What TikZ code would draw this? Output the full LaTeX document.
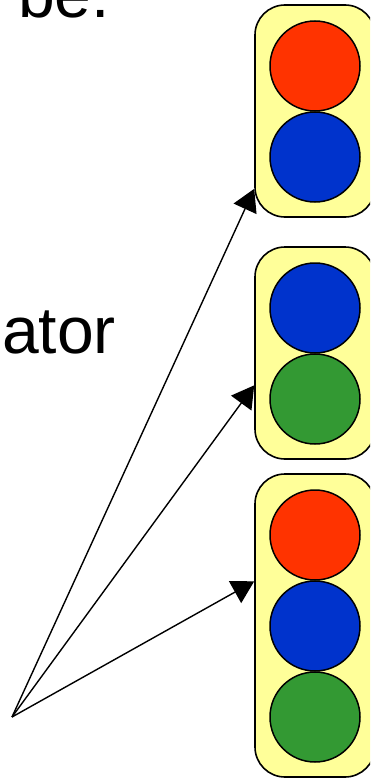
\documentclass[tikz,border=0pt]{standalone}
\usepackage{fontspec}
\setmainfont{Liberation Sans}
\usetikzlibrary{arrows.meta}
\definecolor{LampRed}{RGB}{255, 51, 0}
\definecolor{LampBlue}{RGB}{0, 51, 204}
\definecolor{LampGreen}{RGB}{51, 153, 51}
\definecolor{HousingYellow}{RGB}{255, 255, 153}

\begin{document}
\begin{tikzpicture}[
                x=1pt,y=-1pt,
                housing/.style={rectangle,draw,line width=1.6pt,fill=HousingYellow,rounded corners=30pt,minimum width=120pt,inner sep=0pt},
                lamp/.style={circle,draw,line width=1.5pt,minimum size=90pt,inner sep=0pt},
                pointer/.style={line width=1.4pt,-{Triangle[length=22pt,width=25pt]}},
                word/.style={inner sep=0pt,font=\fontsize{66}{72}\selectfont}
            ]
                \clip (0,0) rectangle (370,778);
                % Text fragments on the left
                \node[word,anchor=base west] (wbe) at (18,18) {be.};
                \node[word,anchor=base east] (wator) at (116,353) {ator};
                % Housings
                \node[housing,minimum height=212pt] (box1) at (315,111) {};
                \node[housing,minimum height=212pt] (box2) at (315,353) {};
                \node[housing,minimum height=303pt] (box3) at (315,625.5) {};
                % Lamps
                \node[lamp,fill=LampRed]   (l1a) at (315,66) {};
                \node[lamp,fill=LampBlue]  (l1b) at (315,157) {};
                \node[lamp,fill=LampBlue]  (l2a) at (315,308) {};
                \node[lamp,fill=LampGreen] (l2b) at (315,399) {};
                \foreach \y/\c [count=\i] in {535/LampRed,626/LampBlue,717/LampGreen} {
                    \node[lamp,fill=\c] (l3\i) at (315,\y) {};
                }
                % Pointers fanning out from one spot
                \coordinate (src) at (12,717);
                \draw[pointer] (src) -- (box1.232.8);
                \draw[pointer] (src) -- (box2.208);
                \draw[pointer] (src) -- (box3.144);
            \end{tikzpicture}
\end{document}
